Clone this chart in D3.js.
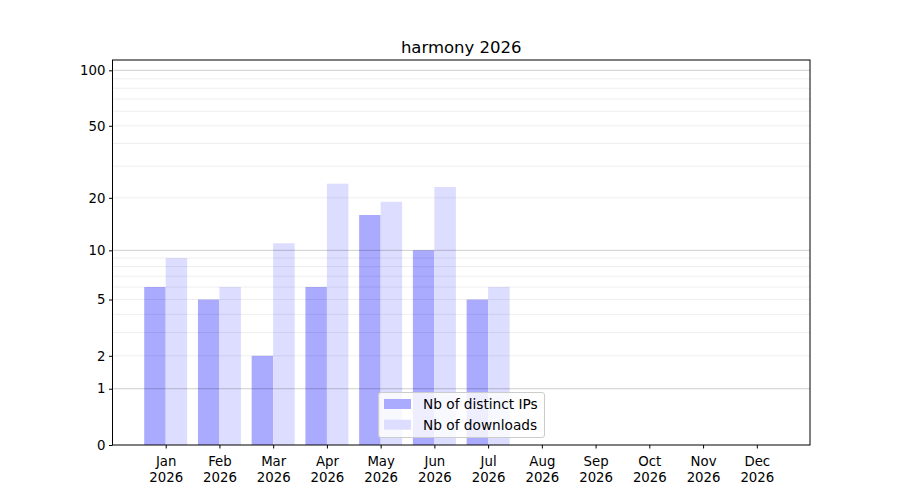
<!DOCTYPE html>
<html><head><meta charset="utf-8">
<script src="https://cdn.jsdelivr.net/npm/d3@7"></script>
<style>body{margin:0;background:#fff}svg{font-family:"DejaVu Sans",sans-serif}</style>
</head><body>
<svg id="c" width="900" height="500"></svg>
<script>
const title = "harmony 2026";
const months = ["Jan","Feb","Mar","Apr","May","Jun","Jul","Aug","Sep","Oct","Nov","Dec"];
const yearLabel = "2026";
const distinctIPs = [6,5,2,6,16,10,5,0,0,0,0,0];
const downloads = [9,6,11,24,19,23,6,0,0,0,0,0];
const seriesNames = ["Nb of distinct IPs","Nb of downloads"];
const yTicks = [0,1,2,5,10,20,50,100];
const majorGrid = [1,10,100];
const minorGrid = [2,3,4,5,6,7,8,9,20,30,40,50,60,70,80,90];
const yMax = 113.7;

const svg = d3.select("#c");
const L=112.5,R=810,T=60,B=445;
const x = d3.scaleLinear().domain([-0.99,11.99]).range([L,R]);
const y = d3.scaleSymlog().constant(1).domain([0,yMax]).range([B,T]);
const colors = ["#aaaaff","#ddddff"];
const bw = 0.4;

const g = svg.append("g");
// bars
[distinctIPs,downloads].forEach((vals,si)=>{
  g.selectAll(null).data(vals).enter().append("rect")
    .attr("x",(d,i)=>x(i+(si===0?-bw:0)))
    .attr("width",x(bw)-x(0))
    .attr("y",d=>y(d))
    .attr("height",d=>y(0)-y(d))
    .attr("fill",colors[si]);
});
// grid
g.selectAll(null).data(minorGrid).enter().append("line")
  .attr("x1",L).attr("x2",R).attr("y1",d=>y(d)).attr("y2",d=>y(d))
  .attr("stroke","#000").attr("stroke-opacity",0.07).attr("stroke-width",1);
g.selectAll(null).data(majorGrid).enter().append("line")
  .attr("x1",L).attr("x2",R).attr("y1",d=>y(d)).attr("y2",d=>y(d))
  .attr("stroke","#000").attr("stroke-opacity",0.2).attr("stroke-width",1);

// frame
svg.append("rect").attr("x",L).attr("y",T).attr("width",R-L).attr("height",B-T)
  .attr("fill","none").attr("stroke","#000").attr("stroke-width",1);

// y axis
const ya = svg.append("g").attr("transform",`translate(${L},0)`)
  .call(d3.axisLeft(y).tickValues(yTicks).tickFormat(d3.format("d")).tickSize(3.5).tickPadding(3.5));
ya.select(".domain").remove();
ya.selectAll("text").attr("font-size","13.3px").attr("fill","#000").attr("font-family","DejaVu Sans");
ya.selectAll("line").attr("stroke","#000");

// x axis
const xa = svg.append("g").attr("transform",`translate(0,${B})`)
  .call(d3.axisBottom(x).tickValues(d3.range(12)).tickFormat("").tickSize(3.5));
xa.select(".domain").remove();
xa.selectAll("line").attr("stroke","#000");
xa.selectAll(".tick").append("text").attr("fill","#000").attr("font-size","13.3px")
  .attr("font-family","DejaVu Sans").attr("text-anchor","middle")
  .each(function(d){
    const t=d3.select(this);
    t.append("tspan").attr("x",0).attr("y",21).text(months[d]);
    t.append("tspan").attr("x",0).attr("y",37).text(yearLabel);
  });

// title
svg.append("text").attr("x",(L+R)/2).attr("y",52.5).attr("text-anchor","middle")
  .attr("font-size","16.5px").attr("fill","#000").text(title);

// legend
const lg = svg.append("g");
lg.append("rect").attr("x",378.5).attr("y",392.5).attr("width",166).attr("height",45)
  .attr("rx",2.5).attr("fill","#fff").attr("fill-opacity",0.8).attr("stroke","#ccc").attr("stroke-width",1);
seriesNames.forEach((n,i)=>{
  lg.append("rect").attr("x",384).attr("y",399+i*20.7).attr("width",27).attr("height",10).attr("fill",colors[i]);
  lg.append("text").attr("x",423).attr("y",409+i*20.7).attr("font-size","13.7px").attr("fill","#000").text(n);
});
</script>
</body></html>
